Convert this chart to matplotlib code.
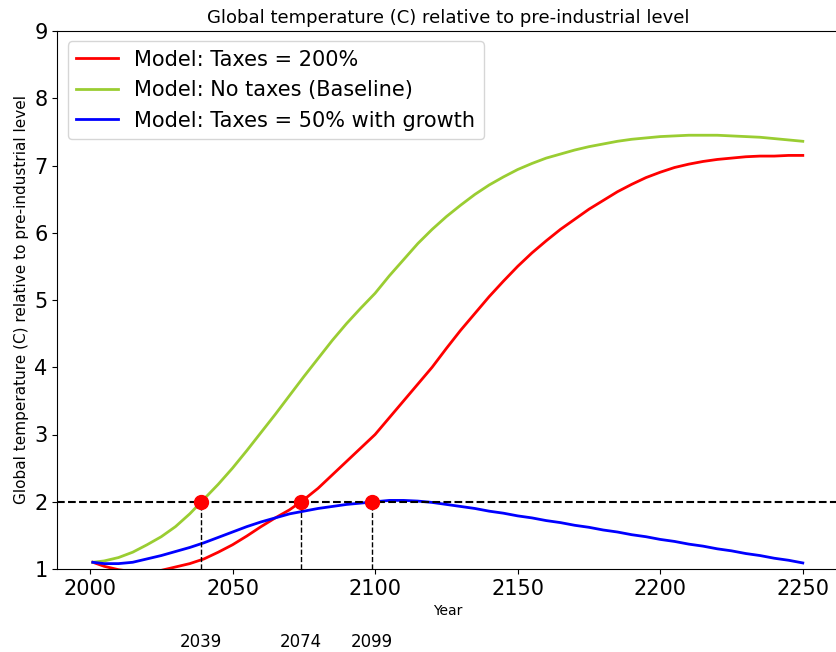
import matplotlib
matplotlib.use("Agg")
from matplotlib import pyplot as plt

years = [2001, 2005, 2010, 2015, 2020, 2025, 2030, 2035, 2040, 2045, 2050, 2055, 2060,
         2065, 2070, 2075, 2080, 2085, 2090, 2095, 2100, 2105, 2110, 2115, 2120, 2125,
         2130, 2135, 2140, 2145, 2150, 2155, 2160, 2165, 2170, 2175, 2180, 2185, 2190,
         2195, 2200, 2205, 2210, 2215, 2220, 2225, 2230, 2235, 2240, 2245, 2250]
taxes_200 = [1.1, 1.04, 0.99, 0.96, 0.95, 0.98, 1.03, 1.08, 1.15, 1.25, 1.36, 1.49, 1.63,
             1.76, 1.88, 2.03, 2.2, 2.4, 2.6, 2.8, 3.0, 3.25, 3.5, 3.75, 4.0, 4.28,
             4.55, 4.8, 5.05, 5.28, 5.5, 5.7, 5.88, 6.05, 6.2, 6.35, 6.48, 6.61, 6.72,
             6.82, 6.9, 6.97, 7.02, 7.06, 7.09, 7.11, 7.13, 7.14, 7.14, 7.15, 7.15]
baseline = [1.1, 1.12, 1.17, 1.25, 1.36, 1.48, 1.63, 1.82, 2.04, 2.26, 2.5, 2.76, 3.03,
            3.3, 3.58, 3.86, 4.13, 4.4, 4.65, 4.88, 5.1, 5.36, 5.6, 5.84, 6.05, 6.24,
            6.41, 6.57, 6.71, 6.83, 6.94, 7.03, 7.11, 7.17, 7.23, 7.28, 7.32, 7.36, 7.39,
            7.41, 7.43, 7.44, 7.45, 7.45, 7.45, 7.44, 7.43, 7.42, 7.4, 7.38, 7.36]
taxes_50_growth = [1.1, 1.08, 1.08, 1.1, 1.15, 1.2, 1.26, 1.32, 1.39, 1.47, 1.55, 1.63, 1.7,
                   1.76, 1.82, 1.86, 1.9, 1.93, 1.96, 1.98, 2.0, 2.02, 2.02, 2.01, 1.99, 1.96,
                   1.93, 1.9, 1.86, 1.83, 1.79, 1.76, 1.72, 1.69, 1.65, 1.62, 1.58, 1.55, 1.51,
                   1.48, 1.44, 1.41, 1.37, 1.34, 1.3, 1.27, 1.23, 1.2, 1.16, 1.13, 1.09]

threshold = 2
cross_years = [2039, 2074, 2099]

fig = plt.figure(figsize=(8.37, 6.52), dpi=100)
ax = fig.add_axes([57.3 / 837, 83 / 652, 781 / 837, 538 / 652])

ax.plot(years, taxes_200, color="red", lw=2, label="Model: Taxes = 200%")
ax.plot(years, baseline, color="yellowgreen", lw=2, label="Model: No taxes (Baseline)")
ax.plot(years, taxes_50_growth, color="blue", lw=2, label="Model: Taxes = 50% with growth")

ax.axhline(threshold, color="black", ls="--", lw=1.5)
for yr in cross_years:
    ax.plot([yr, yr], [1, threshold], color="black", ls="--", lw=1)
    ax.text(yr, -0.085, str(yr), ha="center", va="center", fontsize=12)
ax.plot(cross_years, [threshold] * len(cross_years), "o", color="red", markersize=10)

ax.set_ylim(1, 9)
ax.set_xlim(1988.55, 2262.45)
ax.tick_params(labelsize=15)
ax.set_title("Global temperature (C) relative to pre-industrial level", fontsize=13)
ax.set_xlabel("Year", fontsize=10)
ax.set_ylabel("Global temperature (C) relative to pre-industrial level", fontsize=11)
ax.legend(loc="upper left", fontsize=15)

fig.savefig("out.png", dpi=100)
